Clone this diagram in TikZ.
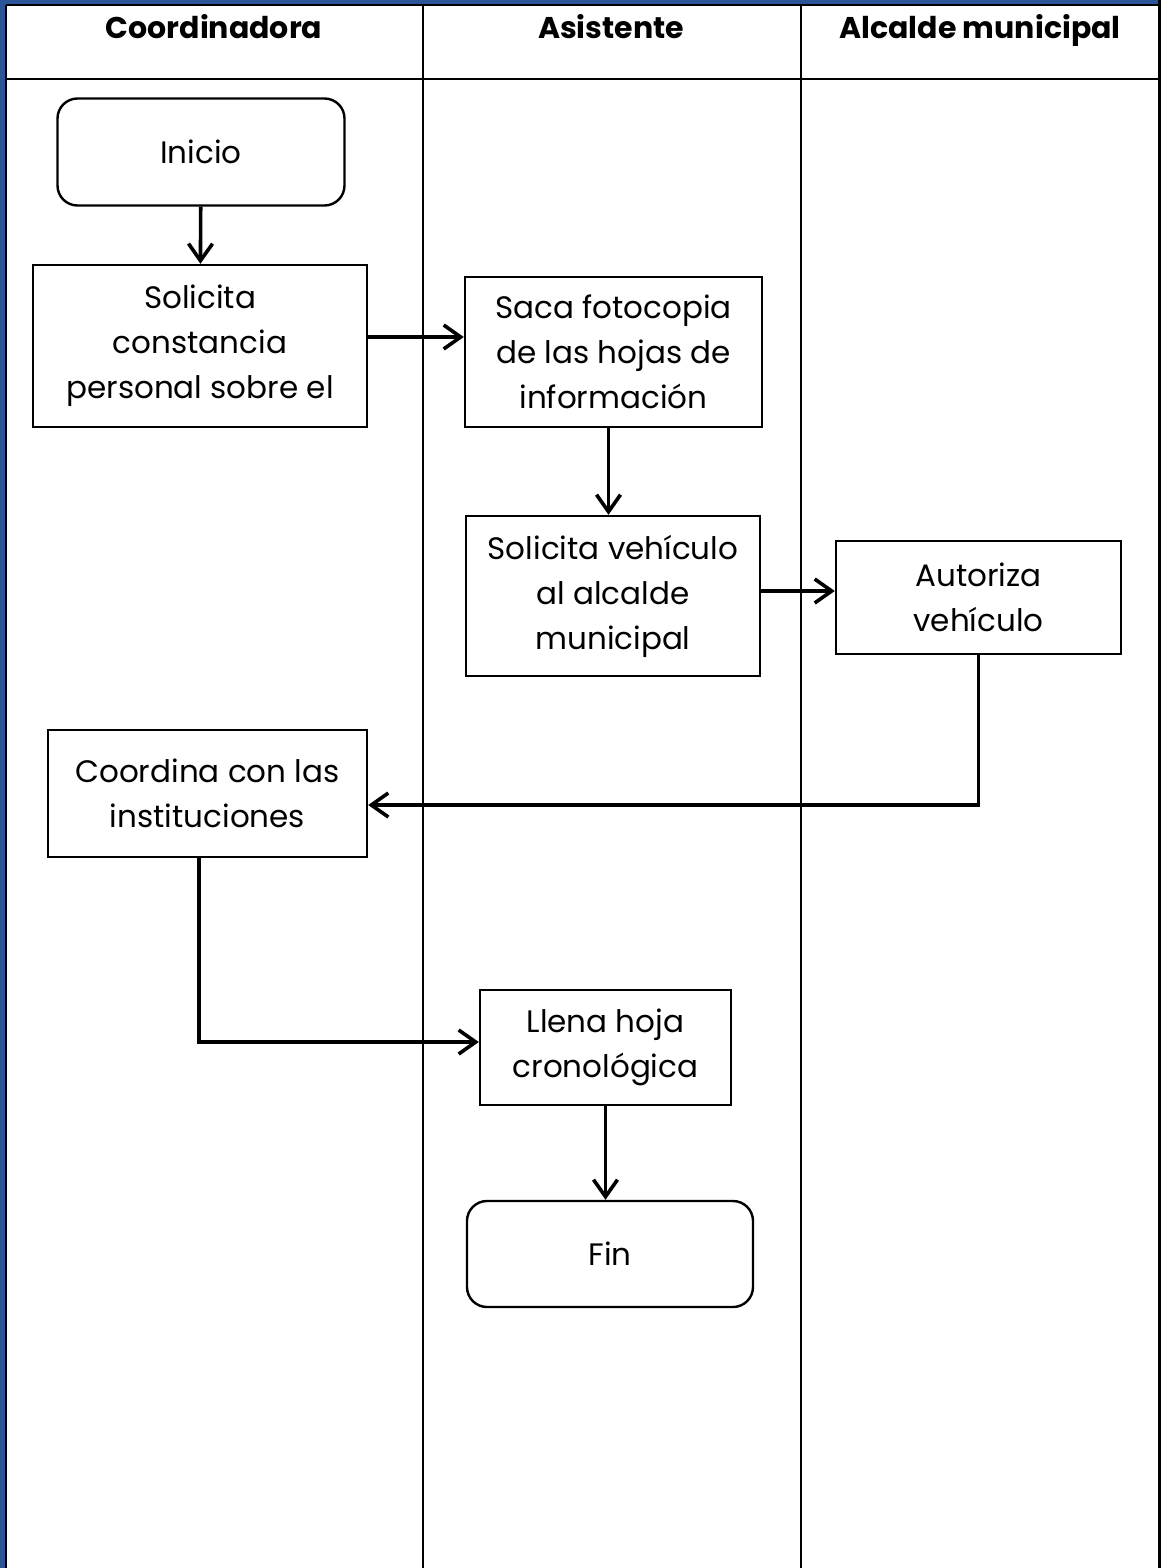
\documentclass[tikz,border=0pt]{standalone}
\usepackage{fontspec}
\setmainfont{Poppins}
\usepackage{tikz}
\usetikzlibrary{arrows.meta,positioning,calc}
\definecolor{frameblue}{HTML}{2B5597}
\tikzset{
  lanehead/.style={font=\bfseries\fontsize{15}{18}\selectfont, anchor=base},
  task/.style={draw, line width=1.2pt, align=center, inner sep=2pt, font=\fontsize{15.5}{22.5}\selectfont},
  term/.style={task, rounded corners=10pt},
  arrow/.style={-{Straight Barb[length=8.5pt,width=12pt]}, line width=1.8pt},
  lane/.style={line width=1.2pt}
}
\begin{document}
\begin{tikzpicture}[x=0.5pt, y=-0.5pt]
  \useasboundingbox (0,0) rectangle (1161,1568);
  % frame and lanes
  \fill[frameblue] (0,0) rectangle (1161,5);
  \fill[frameblue] (0,0) rectangle (5,1568);
  \draw[lane] (6,5) -- (1159,5);
  \draw[lane] (6,79) -- (1159,79);
  \draw[lane] (6,5) -- (6,1568);
  \draw[lane] (423,5) -- (423,1568);
  \draw[lane] (801,5) -- (801,1568);
  \draw[line width=1.5pt] (1159.5,0) -- (1159.5,1568);

  \node[lanehead] (hcoord) at (214,39) {Coordinadora};
  \node[lanehead] (hasis) at (611,39) {Asistente};
  \node[lanehead] (halc) at (980,39) {Alcalde municipal};

  \node[term, minimum width=143.5pt, minimum height=53.5pt] (inicio) at (201,152) {Inicio};
  \node[task, minimum width=167pt, minimum height=81pt] (solc) at (200,346) {Solicita\\constancia\\personal sobre el};
  \node[task, minimum width=148.5pt, minimum height=75pt] (saca) at (613.5,352) {Saca fotocopia\\de las hojas de\\información};
  \node[task, minimum width=147pt, minimum height=80pt] (solv) at (613,596) {Solicita vehículo\\al alcalde\\municipal};
  \node[task, minimum width=142.5pt, minimum height=56.5pt] (autz) at (978.5,597.5) {Autoriza\\vehículo};
  \node[task, minimum width=159.5pt, minimum height=63.5pt] (coord) at (207.5,793.5) {Coordina con las\\instituciones};
  \node[task, minimum width=125.5pt, minimum height=57.5pt] (llena) at (605.5,1047.5) {Llena hoja\\cronológica};
  \node[term, minimum width=143pt, minimum height=53pt] (fin) at (610,1254) {Fin};

  \draw[arrow] (inicio) -- (solc);
  \draw[arrow] ([yshift=4.5pt]solc.east) -- ([yshift=4.5pt]solc.east -| saca.west);
  \draw[arrow] ([xshift=-2.5pt]saca.south) -- ([xshift=-2.5pt]saca.south |- solv.north);
  \draw[arrow] ([yshift=2.5pt]solv.east) -- ([yshift=2.5pt]solv.east -| autz.west);
  \draw[arrow] (autz.south) |- ([yshift=-5.75pt]coord.east);
  \draw[arrow] ([xshift=-4.25pt]coord.south) |- ([yshift=2.75pt]llena.west);
  \draw[arrow] (llena.south) -- (llena.south |- fin.north);
\end{tikzpicture}
\end{document}
